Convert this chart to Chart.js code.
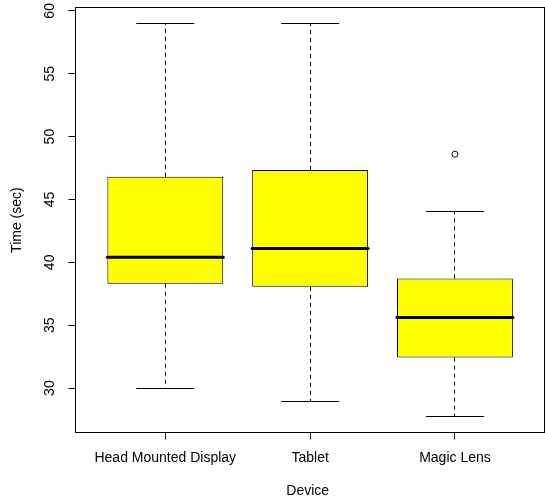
<!DOCTYPE html>
<html>
<head>
<meta charset="utf-8">
<title>Time by Device</title>
<script src="https://cdn.jsdelivr.net/npm/chart.js@4/dist/chart.umd.min.js"></script>
<style>
  html, body { margin: 0; padding: 0; background: #fff; overflow: hidden; }
  canvas { display: block; }
</style>
</head>
<body>
<canvas id="chart" width="545" height="499"></canvas>
<script>
// Task completion time per device (seconds): five-number summaries plus outliers
const categories = ['Head Mounted Display', 'Tablet', 'Magic Lens'];
const whiskerLow = [29.95, 28.9, 27.72];
const lowerQuartile = [38.3, 38.05, 32.43];
const medians = [40.4, 41.1, 35.62];
const upperQuartile = [46.8, 47.35, 38.72];
const whiskerHigh = [59.0, 59.0, 44.08];
const outliers = [[], [], [48.6]];
const yTicks = [30, 35, 40, 45, 50, 55, 60];

// axis ranges: data extent padded by 4% on each side
const allValues = whiskerLow.concat(whiskerHigh, ...outliers);
const dataMin = Math.min(...allValues);
const dataMax = Math.max(...allValues);
const pad = (dataMax - dataMin) * 0.04;
const xPad = categories.length * 0.04;
const xMin = 0.5 - xPad;
const xMaxFull = categories.length + 0.5 + xPad;

// the full plotting region is a little wider than the canvas; only the part
// up to the canvas edge is shown
const plotLeft = 75.5, canvasWidth = 545, fullRight = 549.8;
const xMaxVisible = xMin + (xMaxFull - xMin) * (canvasWidth - plotLeft) / (fullRight - plotLeft);

const font = { family: '"Liberation Sans", Arial, Helvetica, sans-serif', size: 14 };

const boxData = categories.map((c, i) => ({ x: i + 1, y: [lowerQuartile[i], upperQuartile[i]] }));
const outlierData = [];
outliers.forEach((list, i) => list.forEach(v => outlierData.push({ x: i + 1, y: v })));

const align = v => Math.round(v - 0.5) + 0.5;

// dashed whiskers with end staples beneath the boxes, medians on top
const whiskerPlugin = {
  id: 'whiskers',
  beforeDatasetsDraw(chart) {
    const meta = chart.getDatasetMeta(0);
    const y = chart.scales.y;
    const ctx = chart.ctx;
    ctx.save();
    ctx.strokeStyle = '#000';
    ctx.lineWidth = 1;
    meta.data.forEach((bar, i) => {
      const { x, width } = bar.getProps(['x', 'width'], true);
      const cx = align(x);
      ctx.setLineDash([4, 4]);
      ctx.beginPath();
      ctx.moveTo(cx, y.getPixelForValue(upperQuartile[i]));
      ctx.lineTo(cx, y.getPixelForValue(whiskerHigh[i]));
      ctx.moveTo(cx, y.getPixelForValue(lowerQuartile[i]));
      ctx.lineTo(cx, y.getPixelForValue(whiskerLow[i]));
      ctx.stroke();
      ctx.setLineDash([]);
      ctx.beginPath();
      [whiskerHigh[i], whiskerLow[i]].forEach(v => {
        const py = align(y.getPixelForValue(v));
        ctx.moveTo(x - width / 4, py);
        ctx.lineTo(x + width / 4, py);
      });
      ctx.stroke();
    });
    ctx.restore();
  },
  afterDatasetsDraw(chart) {
    const meta = chart.getDatasetMeta(0);
    const y = chart.scales.y;
    const ctx = chart.ctx;
    ctx.save();
    ctx.strokeStyle = '#000';
    ctx.lineWidth = 3;
    ctx.lineCap = 'round';
    meta.data.forEach((bar, i) => {
      const { x, width } = bar.getProps(['x', 'width'], true);
      const py = y.getPixelForValue(medians[i]);
      ctx.beginPath();
      ctx.moveTo(x - width / 2, py);
      ctx.lineTo(x + width / 2, py);
      ctx.stroke();
    });
    ctx.restore();
  }
};

// box around the full plotting region (right side falls past the canvas edge)
const framePlugin = {
  id: 'frame',
  afterDraw(chart) {
    const a = chart.chartArea;
    const ctx = chart.ctx;
    ctx.save();
    ctx.strokeStyle = '#000';
    ctx.lineWidth = 1;
    const l = align(a.left), t = align(a.top), b = align(a.bottom);
    const r = align(chart.scales.x.getPixelForValue(xMaxFull));
    ctx.strokeRect(l, t, r - l, b - t);
    ctx.restore();
  }
};

const noEdgePadding = s => { s.paddingTop = 0; s.paddingBottom = 0; s.paddingLeft = 0; s.paddingRight = 0; };

new Chart(document.getElementById('chart'), {
  type: 'bar',
  data: {
    datasets: [
      {
        data: boxData,
        backgroundColor: '#ffff00',
        borderColor: '#000',
        borderWidth: 1,
        borderSkipped: false,
        barPercentage: 0.8,
        categoryPercentage: 1,
        grouped: false
      },
      {
        type: 'scatter',
        data: outlierData,
        pointStyle: 'circle',
        pointRadius: 3,
        pointBackgroundColor: 'rgba(0,0,0,0)',
        pointBorderColor: '#000',
        pointBorderWidth: 1
      }
    ]
  },
  options: {
    responsive: false,
    devicePixelRatio: 1,
    animation: false,
    events: [],
    layout: { padding: { top: 7.7, left: 0, right: 0, bottom: 0 } },
    plugins: { legend: { display: false }, tooltip: { enabled: false } },
    scales: {
      x: {
        type: 'linear',
        offset: false,
        min: xMin,
        max: xMaxVisible,
        afterBuildTicks: s => { s.ticks = categories.map((c, i) => ({ value: i + 1 })); },
        afterFit: s => { s.height = 66.5; noEdgePadding(s); },
        ticks: {
          callback: v => categories[v - 1],
          autoSkip: false,
          maxRotation: 0,
          padding: 10.4,
          color: '#000',
          font
        },
        grid: { offset: false, drawOnChartArea: false, tickLength: 7, color: '#000', lineWidth: 1 },
        border: { display: false },
        title: { display: true, text: 'Device', color: '#000', font, padding: { top: 0, bottom: -1 } }
      },
      y: {
        type: 'linear',
        min: dataMin - pad,
        max: dataMax + pad,
        afterBuildTicks: s => { s.ticks = yTicks.map(v => ({ value: v })); },
        afterFit: s => { s.width = plotLeft; noEdgePadding(s); },
        ticks: {
          minRotation: 90,
          maxRotation: 90,
          crossAlign: 'center',
          padding: 10.2,
          color: '#000',
          font
        },
        grid: { drawOnChartArea: false, tickLength: 7, color: '#000', lineWidth: 1 },
        border: { display: false },
        title: { display: true, text: 'Time (sec)', color: '#000', font, padding: { top: 8.6, bottom: 0 } }
      }
    }
  },
  plugins: [whiskerPlugin, framePlugin]
});
</script>
</body>
</html>
